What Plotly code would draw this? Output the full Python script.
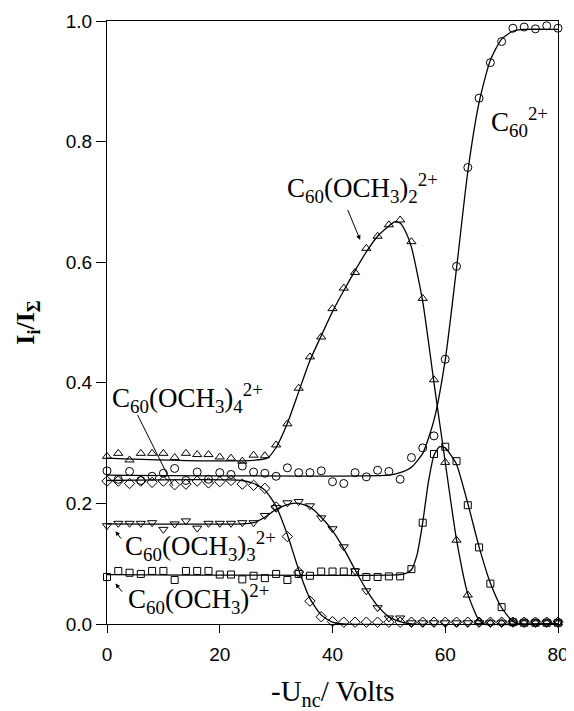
import plotly.graph_objects as go

# ---- data ----
volts = [0, 2, 4, 6, 8, 10, 12, 14, 16, 18, 20, 22, 24, 26, 28, 30, 32, 34, 36, 38,
         40, 42, 44, 46, 48, 50, 52, 54, 56, 58, 60, 62, 64, 66, 68, 70, 72, 74, 76, 78, 80]

c60 = [0.254, 0.240, 0.253, 0.238, 0.245, 0.250, 0.258, 0.238, 0.252, 0.240,
       0.251, 0.248, 0.262, 0.252, 0.250, 0.245, 0.259, 0.251, 0.251, 0.254,
       0.236, 0.233, 0.251, 0.244, 0.255, 0.253, 0.240, 0.276, 0.292, 0.312,
       0.439, 0.593, 0.757, 0.872, 0.931, 0.966, 0.988, 0.990, 0.987, 0.992, 0.988]

och3_2 = [0.278, 0.283, 0.272, 0.283, 0.283, 0.283, 0.276, 0.283, 0.281, 0.281,
          0.277, 0.275, 0.270, 0.280, 0.279, 0.297, 0.332, 0.391, 0.443, 0.476,
          0.523, 0.557, 0.583, 0.623, 0.643, 0.662, 0.670, 0.634, 0.540, 0.405,
          0.268, 0.139, 0.048, 0.004, 0.002, 0.002, 0.002, 0.002, 0.002, 0.002, 0.002]

och3_1 = [0.078, 0.088, 0.085, 0.083, 0.088, 0.088, 0.073, 0.088, 0.088, 0.088,
          0.082, 0.082, 0.074, 0.080, 0.076, 0.083, 0.073, 0.083, 0.080, 0.087,
          0.087, 0.087, 0.086, 0.078, 0.078, 0.079, 0.079, 0.091, 0.168, 0.282,
          0.294, 0.270, 0.197, 0.127, 0.067, 0.028, 0.003, 0.002, 0.002, 0.002, 0.002]

och3_3 = [0.163, 0.167, 0.167, 0.167, 0.168, 0.157, 0.166, 0.171, 0.159, 0.167,
          0.167, 0.167, 0.168, 0.168, 0.180, 0.193, 0.201, 0.203, 0.196, 0.176,
          0.158, 0.128, 0.088, 0.055, 0.027, 0.010, 0.010, 0.002, 0.002, 0.002,
          0.002, 0.002, 0.002, 0.002, 0.002, 0.002, 0.002, 0.002, 0.002, 0.002, 0.002]

och3_4 = [0.237, 0.237, 0.233, 0.237, 0.235, 0.237, 0.231, 0.232, 0.237, 0.234,
          0.236, 0.238, 0.232, 0.230, 0.225, 0.194, 0.145, 0.086, 0.038, 0.012,
          0.004, 0.003, 0.003, 0.003, 0.003, 0.003, 0.003, 0.003, 0.003, 0.003,
          0.003, 0.003, 0.003, 0.003, 0.003, 0.003, 0.003, 0.003, 0.003, 0.003, 0.003]

# fitted curves
fit_c60_x = [0, 50, 52, 54, 56, 58, 60, 62, 64, 66, 68, 70, 72, 74, 80]
fit_c60_y = [0.247, 0.247, 0.251, 0.260, 0.283, 0.338, 0.438, 0.590, 0.750, 0.865,
             0.935, 0.970, 0.983, 0.986, 0.986]

fit_2_x = [0, 28.4, 30, 32, 34, 36, 38, 40, 42, 44, 46, 48, 50, 51, 52, 53, 54,
           56, 58, 60, 62, 64, 66, 67, 80]
fit_2_y = [0.275, 0.275, 0.293, 0.333, 0.385, 0.437, 0.478, 0.518, 0.553, 0.586,
           0.617, 0.643, 0.660, 0.667, 0.665, 0.650, 0.625, 0.535, 0.400, 0.268,
           0.140, 0.050, 0.006, 0.0, 0.0]

fit_1_x = [0, 52, 53, 54, 55, 56, 57, 58, 59, 60, 61, 62, 64, 66, 68, 70, 72, 73, 80]
fit_1_y = [0.082, 0.082, 0.084, 0.090, 0.115, 0.168, 0.235, 0.280, 0.294, 0.292,
           0.280, 0.265, 0.200, 0.128, 0.068, 0.027, 0.004, 0.0, 0.0]

fit_3_x = [0, 24, 26, 28, 30, 32, 33, 34, 36, 38, 40, 42, 44, 46, 48, 50, 52, 54, 80]
fit_3_y = [0.166, 0.166, 0.168, 0.177, 0.190, 0.198, 0.200, 0.200, 0.194, 0.177,
           0.155, 0.125, 0.090, 0.057, 0.030, 0.012, 0.004, 0.0, 0.0]

fit_4_x = [0, 24, 26, 28, 30, 32, 34, 36, 38, 40, 42, 80]
fit_4_y = [0.238, 0.238, 0.233, 0.222, 0.195, 0.148, 0.090, 0.042, 0.015, 0.003, 0.0, 0.0]

x_ticks = [0, 20, 40, 60, 80]
y_ticks = [0.0, 0.2, 0.4, 0.6, 0.8, 1.0]

SERIF = "Liberation Serif, Times New Roman, serif"
SANS = "Liberation Sans, Arial, sans-serif"

fig = go.Figure()

for fx, fy in [(fit_c60_x, fit_c60_y), (fit_2_x, fit_2_y), (fit_1_x, fit_1_y),
               (fit_3_x, fit_3_y), (fit_4_x, fit_4_y)]:
    fig.add_trace(go.Scatter(x=fx, y=fy, mode="lines",
                             line=dict(color="black", width=1.3, shape="spline", smoothing=0.6),
                             hoverinfo="skip", showlegend=False, cliponaxis=False))

for ys, sym, sz in [(c60, "circle-open", 8), (och3_2, "triangle-up-open", 8),
                    (och3_1, "square-open", 7), (och3_3, "triangle-down-open", 8),
                    (och3_4, "diamond-open", 8)]:
    fig.add_trace(go.Scatter(x=volts, y=ys, mode="markers",
                             marker=dict(symbol=sym, size=sz, color="black",
                                         line=dict(color="black", width=1)),
                             showlegend=False, cliponaxis=False))

lab_font = dict(family=SERIF, size=27, color="black")
labels = [
    (67.8, 0.833, "C<sub>60</sub><sup>2+</sup>"),
    (31.6, 0.723, "C<sub>60</sub>(OCH<sub>3</sub>)<sub>2</sub><sup>2+</sup>"),
    (0.6, 0.375, "C<sub>60</sub>(OCH<sub>3</sub>)<sub>4</sub><sup>2+</sup>"),
    (2.9, 0.129, "C<sub>60</sub>(OCH<sub>3</sub>)<sub>3</sub><sup>2+</sup>"),
    (3.3, 0.041, "C<sub>60</sub>(OCH<sub>3</sub>)<sup>2+</sup>"),
]
for lx, ly, txt in labels:
    fig.add_annotation(x=lx, y=ly, xref="x", yref="y", text=txt, showarrow=False,
                       xanchor="left", yanchor="middle", font=lab_font)

arrows = [
    (44.9, 0.637, 42.6, 0.689, 2),
    (11.7, 0.229, 5.3, 0.349, 0),
    (1.5, 0.154, 2.7, 0.139, 2),
    (1.5, 0.067, 2.9, 0.051, 2),
]
for tx, ty, sx, sy, head in arrows:
    fig.add_annotation(x=tx, y=ty, ax=sx, ay=sy, xref="x", yref="y", axref="x", ayref="y",
                       text="", showarrow=True, arrowhead=head, arrowsize=0.9,
                       arrowwidth=1, arrowcolor="black", standoff=0, startstandoff=0)

# x-axis title placed as a paper-referenced annotation for exact placement
fig.add_annotation(x=0.5, y=-0.114, xref="paper", yref="paper",
                   text="-U<sub>nc</sub>/ Volts", showarrow=False,
                   xanchor="center", yanchor="middle",
                   font=dict(family=SERIF, size=29, color="black"))

axis_common = dict(showline=True, linecolor="black", linewidth=1, mirror=True,
                   ticks="outside", tickcolor="black", tickwidth=1,
                   showgrid=False, zeroline=False, automargin=False,
                   tickfont=dict(family=SANS, size=19, color="black"))

fig.update_xaxes(range=[0, 80], tickvals=x_ticks, ticklen=8, ticklabelstandoff=5,
                 **axis_common)
fig.update_yaxes(range=[0, 1], tickvals=y_ticks, tickformat=".1f", ticklen=10,
                 title=dict(text="<b>I<sub>i</sub>/I<sub>Σ</sub></b>",
                            font=dict(family=SERIF, size=26, color="black"), standoff=23),
                 **axis_common)

# page body has an 8px default margin, so the figure is sized to fit inside the window
fig.update_layout(width=566, height=703, paper_bgcolor="white", plot_bgcolor="white",
                  margin=dict(l=99, r=16, t=13, b=87), showlegend=False)

fig.write_html("out.html")
